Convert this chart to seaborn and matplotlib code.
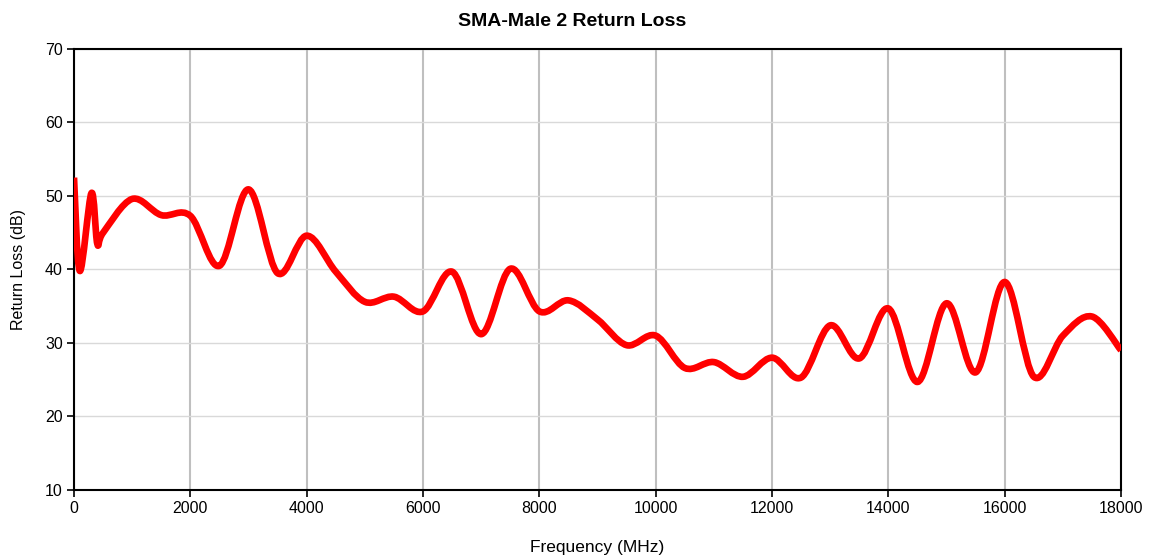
import numpy as np
import seaborn as sns
import matplotlib.pyplot as plt
from matplotlib.path import Path
from matplotlib.patches import PathPatch

# values (Excel "smoothed line" through these points)
freq_mhz = [0, 100, 300, 400, 500, 1000, 1500, 2000, 2500, 3000, 3500, 4000,
            4500, 5000, 5500, 6000, 6500, 7000, 7500, 8000, 8500, 9000, 9500,
            10000, 10500, 11000, 11500, 12000, 12500, 13000, 13500, 14000,
            14500, 15000, 15500, 16000, 16500, 17000, 17500, 18000]
return_loss = [52.5, 39.8, 50.4, 43.5, 45.0, 49.6, 47.4, 47.3, 40.5, 50.9,
               39.5, 44.6, 39.7, 35.6, 36.3, 34.3, 39.7, 31.2, 40.1, 34.3,
               35.8, 33.2, 29.7, 31.0, 26.6, 27.4, 25.4, 28.0, 25.3, 32.4,
               27.9, 34.7, 24.7, 35.4, 26.0, 38.3, 25.4, 31.0, 33.6, 29.0]

x_ticks = list(range(0, 18001, 2000))
y_ticks = list(range(10, 71, 10))

sns.set_style("white", {"xtick.bottom": True, "ytick.left": True})
plt.rcParams["font.family"] = ["Liberation Sans", "DejaVu Sans"]
plt.rcParams["text.color"] = "black"
plt.rcParams["axes.labelcolor"] = "black"
plt.rcParams["xtick.color"] = "black"
plt.rcParams["ytick.color"] = "black"

fig = plt.figure(figsize=(11.51, 5.58), dpi=100)
ax = fig.add_axes([0.0643, 0.1219, 0.9097, 0.7903])

# smoothed line like Excel: Catmull-Rom segments as cubic Bezier curves
pts = np.column_stack([freq_mhz, return_loss]).astype(float)
n = len(pts)
verts = [pts[0]]
codes = [Path.MOVETO]
for i in range(n - 1):
    p0 = pts[max(i - 1, 0)]
    p1 = pts[i]
    p2 = pts[i + 1]
    p3 = pts[min(i + 2, n - 1)]
    verts += [p1 + (p2 - p0) / 6, p2 - (p3 - p1) / 6, p2]
    codes += [Path.CURVE4] * 3
curve = PathPatch(Path(verts, codes), facecolor="none", edgecolor="#ff0000",
                  linewidth=4.8, capstyle="butt", joinstyle="round", zorder=3)
ax.add_patch(curve)

ax.set_xlim(0, 18000)
ax.set_ylim(10, 70)
ax.set_xticks(x_ticks)
ax.set_yticks(y_ticks)
ax.tick_params(axis="both", direction="out", length=5, width=1.2,
               color="black", labelcolor="black", labelsize=11.5, pad=3,
               bottom=True, left=True)
ax.xaxis.grid(True, color="#bfbfbf", linewidth=1.5)
ax.yaxis.grid(True, color="#d9d9d9", linewidth=1.0)
ax.set_axisbelow(True)
for side in ["left", "right", "top", "bottom"]:
    ax.spines[side].set_visible(True)
    ax.spines[side].set_color("black")
    ax.spines[side].set_linewidth(1.5)

fig.suptitle("SMA-Male 2 Return Loss", fontsize=14, fontweight="bold",
             x=0.497, y=0.962, va="center")
ax.set_xlabel("Frequency (MHz)", fontsize=12.5, labelpad=17)
ax.set_ylabel("Return Loss (dB)", fontsize=11.5, labelpad=14)

fig.savefig("out.png", dpi=100)
